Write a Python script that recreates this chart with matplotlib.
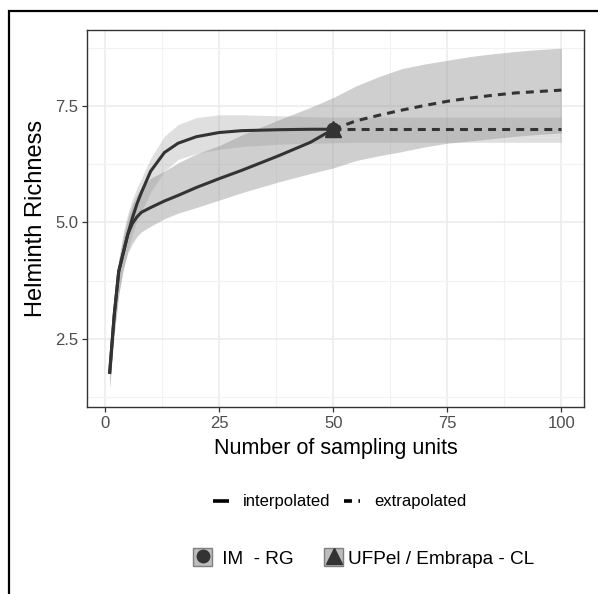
import matplotlib
matplotlib.use("Agg")
import matplotlib.pyplot as plt
from matplotlib.lines import Line2D
from matplotlib.patches import Patch, Rectangle
from matplotlib.legend_handler import HandlerTuple

plt.rcParams["font.family"] = ["Liberation Sans", "DejaVu Sans"]

# rarefaction (interpolated) part, both sites observed at m = 50
interp_x = [1, 2, 3, 4, 5, 6, 7, 8, 10, 13, 16, 20, 25, 30, 38, 45, 50]
im_rg_interp = [1.75, 3.0, 3.95, 4.35, 4.75, 5.1, 5.4, 5.65, 6.1, 6.5, 6.7,
                6.84, 6.93, 6.97, 6.99, 7.0, 7.0]
ufpel_interp = [1.75, 3.0, 3.95, 4.35, 4.75, 4.98, 5.12, 5.22, 5.32, 5.46, 5.58,
                5.75, 5.94, 6.12, 6.43, 6.72, 7.0]

# extrapolated part
extrap_x = [50, 55, 60, 65, 70, 75, 80, 85, 90, 95, 100]
im_rg_extrap = [7.0, 7.0, 7.0, 7.0, 7.0, 7.0, 7.0, 7.0, 7.0, 7.0, 7.0]
ufpel_extrap = [7.0, 7.18, 7.3, 7.41, 7.51, 7.6, 7.67, 7.73, 7.78, 7.81, 7.84]

# 95% confidence bands
band_x = [1, 2, 3, 4, 5, 6, 7, 8, 10, 13, 16, 20, 25, 30, 38, 45, 50,
          55, 60, 65, 70, 75, 80, 85, 90, 95, 100]
im_rg_lo = [1.45, 2.6, 3.45, 4.0, 4.4, 4.75, 5.05, 5.25, 5.65, 6.1, 6.35, 6.48,
            6.57, 6.63, 6.68, 6.7, 6.71, 6.72, 6.72, 6.72, 6.72, 6.72, 6.72,
            6.72, 6.72, 6.72, 6.72]
im_rg_hi = [2.05, 3.3, 4.2, 4.8, 5.2, 5.5, 5.75, 5.95, 6.38, 6.85, 7.1, 7.25,
            7.31, 7.31, 7.29, 7.27, 7.26, 7.26, 7.26, 7.26, 7.26, 7.26, 7.26,
            7.26, 7.26, 7.26, 7.26]
ufpel_lo = [1.45, 2.6, 3.45, 4.0, 4.35, 4.55, 4.7, 4.8, 4.92, 5.08, 5.2, 5.32,
            5.48, 5.64, 5.87, 6.05, 6.17, 6.33, 6.43, 6.52, 6.62, 6.7, 6.75,
            6.8, 6.85, 6.89, 6.92]
ufpel_hi = [2.05, 3.3, 4.2, 4.7, 5.1, 5.4, 5.6, 5.75, 5.95, 6.1, 6.28, 6.47,
            6.65, 6.88, 7.2, 7.47, 7.68, 7.93, 8.13, 8.3, 8.4, 8.48, 8.56,
            8.62, 8.67, 8.71, 8.74]

observed_x = 50
observed_y = [7.0, 7.0]

x_ticks = [0, 25, 50, 75, 100]
y_ticks = [2.5, 5.0, 7.5]

LINE = "#333333"
DASH = (2.6, 2.0)

fig = plt.figure(figsize=(5.98, 5.94), dpi=100)
ax = fig.add_axes([0.1455, 0.3148, 0.8311, 0.6347])

ax.fill_between(band_x, ufpel_lo, ufpel_hi, color="#969696", alpha=0.45, lw=0)
ax.fill_between(band_x, im_rg_lo, im_rg_hi, color="#969696", alpha=0.3, lw=0)

ax.plot(interp_x, im_rg_interp, color=LINE, lw=2.2, solid_capstyle="butt")
ax.plot(interp_x, ufpel_interp, color=LINE, lw=2.2, solid_capstyle="butt")
ax.plot(extrap_x, im_rg_extrap, color=LINE, lw=2.2, dashes=DASH,
        dash_capstyle="butt")
ax.plot(extrap_x, ufpel_extrap, color=LINE, lw=2.2, dashes=DASH,
        dash_capstyle="butt")

ax.plot(observed_x, observed_y[0], "o", color=LINE, ms=9)
ax.plot(observed_x, observed_y[1], "^", color=LINE, ms=11)

ax.set_xlim(-3.95, 104.95)
ax.set_ylim(1.04, 9.13)
ax.set_xticks(x_ticks)
ax.set_yticks(y_ticks)
ax.set_xticks([12.5, 37.5, 62.5, 87.5], minor=True)
ax.set_yticks([1.25, 3.75, 6.25, 8.75], minor=True)
ax.grid(which="major", color="#ebebeb", lw=1.1)
ax.grid(which="minor", color="#f2f2f2", lw=0.8)
ax.set_axisbelow(True)
ax.tick_params(which="major", length=3.5, width=0.9, color="#333333",
               labelsize=12, labelcolor="#4d4d4d", pad=3)
ax.tick_params(which="minor", length=0)
for s in ax.spines.values():
    s.set_color("#333333")
    s.set_linewidth(1.0)

ax.set_xlabel("Number of sampling units", fontsize=15.5, color="black")
ax.xaxis.set_label_coords(0.5, -0.111)
ax.xaxis.label.set_va("center")
ax.set_ylabel("Helminth Richness", fontsize=17, color="black")
ax.yaxis.set_label_coords(-0.1026, 0.5)
ax.yaxis.label.set_va("center")

# legend for method
method_handles = [
    Line2D([], [], color="black", lw=2.6, solid_capstyle="butt"),
    Line2D([], [], color="black", lw=2.6, dashes=(2.2, 1.8),
           dash_capstyle="butt"),
]
fig.legend(method_handles, ["interpolated", "extrapolated"],
           loc="center", bbox_to_anchor=(0.568, 0.155), ncol=2,
           frameon=False, fontsize=12, handlelength=0.95,
           handletextpad=0.85, columnspacing=0.8)

# legend for site
site_handles = [
    (Patch(facecolor="#bdbdbd", edgecolor="#7f7f7f", lw=1.0),
     Line2D([], [], marker="o", color=LINE, ls="none", ms=9)),
    (Patch(facecolor="#bdbdbd", edgecolor="#7f7f7f", lw=1.0),
     Line2D([], [], marker="^", color=LINE, ls="none", ms=11)),
]
fig.legend(site_handles, [" IM  - RG", "UFPel / Embrapa - CL"],
           handler_map={tuple: HandlerTuple(ndivide=1)},
           loc="center", bbox_to_anchor=(0.608, 0.0606), ncol=2,
           frameon=False, fontsize=13.7, handlelength=1.0, handleheight=1.0,
           handletextpad=0.25, columnspacing=1.6)

# outer frame of the figure panel
fig.patches.append(Rectangle((8.5 / 598, -0.1), 1.2, 1.0 - 11 / 594 + 0.1,
                             transform=fig.transFigure, fill=False,
                             edgecolor="black", lw=1.6))

fig.savefig("out.png", dpi=100)
